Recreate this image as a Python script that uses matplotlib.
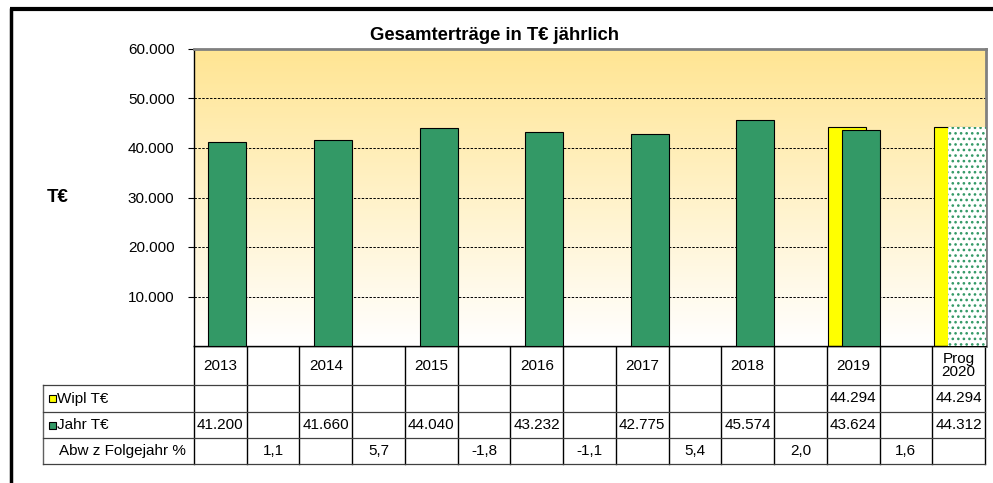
import numpy as np
import matplotlib
matplotlib.use('Agg')
import matplotlib.pyplot as plt
from matplotlib.colors import LinearSegmentedColormap

plt.rcParams['font.family'] = ['Liberation Sans', 'DejaVu Sans']
plt.rcParams['hatch.linewidth'] = 1.1

# data
years = ['2013', '2014', '2015', '2016', '2017', '2018', '2019', 'Prog\n2020']
wipl = [None, None, None, None, None, None, 44294, 44294]
jahr = [41200, 41660, 44040, 43232, 42775, 45574, 43624, 44312]
abw = [1.1, 5.7, -1.8, -1.1, 5.4, 2.0, 1.6]
row_labels = ['Wipl T€', 'Jahr T€', 'Abw z Folgejahr %']

GREEN = '#339966'
YELLOW = '#FFFF00'
W, H = 993, 483


def fmt(v):
    return f'{v:,.0f}'.replace(',', '.')


def fmt_pct(v):
    return f'{v:.1f}'.replace('.', ',')


fig = plt.figure(figsize=(W / 100, H / 100), dpi=100)
fig.patch.set_facecolor('white')

# plot area in pixels
px_l, px_r, px_t, px_b = 194, 986, 49, 346
ax = fig.add_axes([px_l / W, 1 - px_b / H, (px_r - px_l) / W, (px_b - px_t) / H])
ncat = 2 * len(years) - 1
ax.set_xlim(0, ncat)
ax.set_ylim(0, 60000)

# gradient background
cmap = LinearSegmentedColormap.from_list('bg', ['#FFFFFF', '#FFE593'])
grad = np.linspace(0, 1, 256).reshape(-1, 1)
ax.imshow(grad, cmap=cmap, aspect='auto', extent=[0, ncat, 0, 60000],
          origin='lower', zorder=0)

for y in range(10000, 60000, 10000):
    ax.axhline(y, color='black', lw=0.7, ls=(0, (2.5, 1.5)), zorder=1)

bw = 0.72
off = 0.133
for i in range(len(years)):
    c = 2 * i + 0.5
    if wipl[i] is not None:
        ax.bar(c - off, wipl[i], width=bw, color=YELLOW, edgecolor='black',
               lw=0.8, zorder=2)
    if i == len(years) - 1:
        ax.bar(c + off, jahr[i], width=bw, color='white', edgecolor=GREEN,
               lw=0, hatch='...', zorder=3)
    else:
        ax.bar(c + off, jahr[i], width=bw, color=GREEN, edgecolor='black',
               lw=0.8, zorder=3)

ax.set_xticks([])
ax.set_yticks(range(10000, 60001, 10000))
ax.set_yticklabels([fmt(v) for v in range(10000, 60001, 10000)], fontsize=11)
ax.tick_params(axis='y', length=4, width=0.8, pad=10)
for s in ['left', 'bottom']:
    ax.spines[s].set_color('black')
    ax.spines[s].set_linewidth(1)
for s in ['top', 'right']:
    ax.spines[s].set_color('#808080')
    ax.spines[s].set_linewidth(2)

# overlay in pixel coordinates for table, labels and frame
ov = fig.add_axes([0, 0, 1, 1], zorder=-1)
ov.set_xlim(0, W)
ov.set_ylim(H, 0)
ov.axis('off')

ov.text(494, 35, 'Gesamterträge in T€ jährlich', ha='center', va='center',
        fontsize=13.3, fontweight='bold')
ov.text(58, 198, 'T€', ha='center', va='center', fontsize=13.5, fontweight='bold')

# outer frame
ov.plot([11, 11], [H, 8], color='black', lw=2.5, solid_capstyle='butt')
ov.plot([10, W], [8.5, 8.5], color='black', lw=3, solid_capstyle='butt')

# data table
colw = (985 - px_l) / ncat
rows_y = [346, 385, 412, 438, 464]
lab_l = 43
x_edges = [px_l + k * colw for k in range(ncat + 1)]
for x in x_edges:
    ov.plot([x, x], [rows_y[0], rows_y[-1]], color='black', lw=1)
ov.plot([lab_l, lab_l], [rows_y[1], rows_y[-1]], color='#606060', lw=1)
ov.plot([px_l, x_edges[-1]], [rows_y[0], rows_y[0]], color='black', lw=1)
for y in rows_y[1:]:
    ov.plot([lab_l, x_edges[-1]], [y, y], color='#404040', lw=0.9)


def cell_x(k):
    return px_l + (k + 0.5) * colw


def row_y(r):
    return (rows_y[r] + rows_y[r + 1]) / 2


for i, yr in enumerate(years):
    ov.text(cell_x(2 * i), row_y(0), yr, ha='center', va='center', fontsize=11,
            linespacing=0.95)
    if wipl[i] is not None:
        ov.text(cell_x(2 * i), row_y(1), fmt(wipl[i]), ha='center', va='center',
                fontsize=11)
    ov.text(cell_x(2 * i), row_y(2), fmt(jahr[i]), ha='center', va='center',
            fontsize=11)
for i, v in enumerate(abw):
    ov.text(cell_x(2 * i + 1), row_y(3), fmt_pct(v), ha='center', va='center',
            fontsize=11)

# row labels with legend keys
ov.add_patch(plt.Rectangle((48.5, row_y(1) - 3.5), 7, 7, facecolor=YELLOW,
                           edgecolor='black', lw=0.8))
ov.add_patch(plt.Rectangle((48.5, row_y(2) - 3.5), 7, 7, facecolor=GREEN,
                           edgecolor='black', lw=0.8))
ov.text(57, row_y(1), row_labels[0], ha='left', va='center', fontsize=11)
ov.text(57, row_y(2), row_labels[1], ha='left', va='center', fontsize=11)
ov.text(59, row_y(3), row_labels[2], ha='left', va='center', fontsize=11)

fig.savefig('out.png', dpi=100)
